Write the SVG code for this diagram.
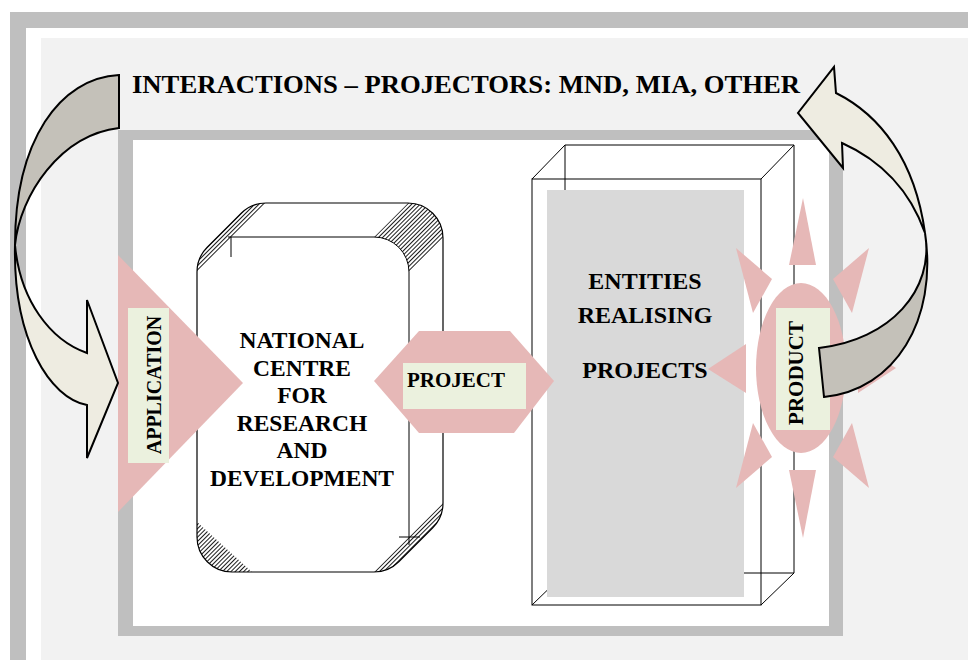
<svg xmlns="http://www.w3.org/2000/svg" width="968" height="660" viewBox="0 0 968 660">
<defs>
<pattern id="hatch" patternUnits="userSpaceOnUse" width="3" height="3" patternTransform="rotate(45)">
<line x1="0.5" y1="0" x2="0.5" y2="3" stroke="#000" stroke-width="0.9"/>
</pattern>
<style>
.t{font-family:"Liberation Serif","Times New Roman",serif;font-weight:bold;fill:#000}
.pink{fill:#e6b8b7}
.lbl{fill:#ebf1de}
.ln{fill:none;stroke:#000;stroke-width:1}
.arrD{fill:#c4c1b9;stroke:#000;stroke-width:2;stroke-linejoin:miter}
.arrL{fill:#eeece1;stroke:#000;stroke-width:2;stroke-linejoin:miter}
.hat{fill:url(#hatch);stroke:none}
</style>
</defs>
<rect x="0" y="0" width="968" height="660" fill="#ffffff"/>
<g id="frame">
<rect x="10" y="12" width="970" height="660" fill="#bfbfbf"/>
<rect x="26" y="28" width="950" height="640" fill="#ffffff"/>
<rect x="41" y="38" width="935" height="630" fill="#f2f2f2"/>
<rect x="118" y="130" width="725" height="506" fill="#bfbfbf"/>
<rect x="133" y="140" width="696" height="486" fill="#ffffff"/>
</g>
<g id="title">
<text class="t" x="132" y="93" font-size="26" textLength="668" lengthAdjust="spacingAndGlyphs">INTERACTIONS – PROJECTORS: MND, MIA, OTHER</text>
</g>
<g id="ncrd">
<path d="M197,537 L197,272 A35,35 0 0 1 207.25,247.25 L241.25,213.25 A35,35 0 0 1 266,203 L408,203 A35,35 0 0 1 443,238 L443,503 A35,35 0 0 1 432.75,527.75 L398.75,561.75 A35,35 0 0 1 374,572 L232,572 A35,35 0 0 1 197,537 Z" fill="#ffffff" stroke="#000" stroke-width="1.2"/>
<path class="hat" d="M197,272 A35,35 0 0 1 207.25,247.25 L241.25,213.25 A35,35 0 0 1 266,203 Z"/>
<path class="hat" d="M374,237 A35,35 0 0 1 409,272 L443,238 A35,35 0 0 0 408,203 Z"/>
<path class="hat" d="M443,503 A35,35 0 0 1 432.75,527.75 L398.75,561.75 A35,35 0 0 1 374,572 Z"/>
<path class="hat" d="M197,522 L197,537 A35,35 0 0 0 232,572 L252,572 Z"/>
<path class="ln" d="M228,237 L374,237 A35,35 0 0 1 409,272 L409,545 M231,237 L231,257 M399,537 L420,537"/>
<text class="t" font-size="23.5" text-anchor="middle"><tspan x="302" y="348">NATIONAL</tspan><tspan x="302" y="375.5">CENTRE</tspan><tspan x="302" y="403">FOR</tspan><tspan x="302" y="430.5">RESEARCH</tspan><tspan x="302" y="458">AND</tspan><tspan x="302" y="485.5">DEVELOPMENT</tspan></text>
</g>
<g id="entities">
<path class="ln" d="M565,145 L794,145 L794,573 L565,573 Z M532,179 L565,145 M761,179 L794,145 M761,605 L794,573 M532,605 L565,573"/>
<rect x="532" y="179" width="229" height="426" class="ln"/>
<rect x="547" y="190" width="197" height="407" fill="#d9d9d9"/>
<text class="t" font-size="24" text-anchor="middle"><tspan x="645" y="289">ENTITIES</tspan><tspan x="645" y="323">REALISING</tspan><tspan x="645" y="378">PROJECTS</tspan></text>
</g>
<g id="application">
<polygon class="pink" points="118,255 243,383 118,512"/>
<rect class="lbl" x="128" y="308" width="41" height="155"/>
<text class="t" font-size="20" text-anchor="middle" transform="translate(161,385) rotate(-90)" x="0" y="0">APPLICATION</text>
</g>
<g id="project">
<polygon class="pink" points="374,381 419,331 510,331 554,381 514,433 419,433"/>
<rect class="lbl" x="403" y="363" width="123" height="46"/>
<text class="t" x="407" y="387" font-size="21">PROJECT</text>
</g>
<g id="product">
<polygon class="pink" points="708,369 746,344 746,393"/>
<polygon class="pink" points="896,368 858,344 858,393"/>
<polygon class="pink" points="803,198 789,265 816,265"/>
<polygon class="pink" points="803,538 789,470 816,470"/>
<polygon class="pink" points="736,248 772,279 753,313"/>
<polygon class="pink" points="869,248 833,279 852,313"/>
<polygon class="pink" points="736,488 772,457 753,423"/>
<polygon class="pink" points="869,488 833,457 852,423"/>
<ellipse class="pink" cx="801" cy="368" rx="45" ry="85"/>
<rect class="lbl" x="776" y="308" width="54" height="122"/>
<text class="t" font-size="21" text-anchor="middle" transform="translate(803,373) rotate(-90)" x="0" y="0">PRODUCT</text>
</g>
<g id="connectors">
<path class="arrD" d="M119,75 C60,78 15,140 15,245 C20,195 60,135 119,128 Z"/>
<path class="arrL" d="M15,245 C20,300 50,340 87,353 L87,300 L118,383 L87,458 L87,405 C50,398 13,340 15,245 Z"/>
<path class="arrL" d="M925,233 C915,160 880,115 836,93 L834,67 L798,113 L843,168 L842,143 C880,160 910,190 925,233 Z"/>
<path class="arrD" d="M925,233 C935,290 890,340 819,348 L824,397 C895,390 938,320 925,233 Z"/>
</g>
</svg>
